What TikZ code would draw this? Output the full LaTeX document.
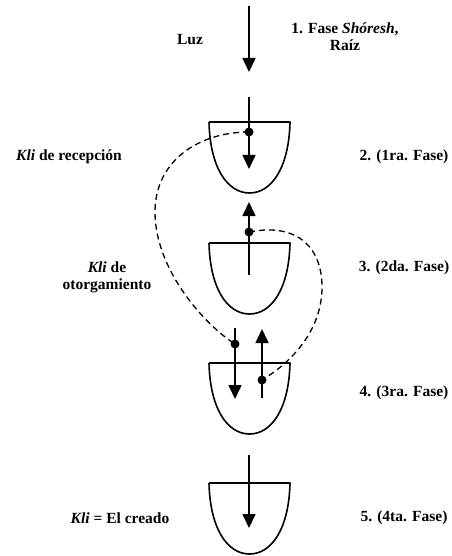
\documentclass[tikz,border=0pt]{standalone}
\usepackage{fontspec}
\setmainfont{Liberation Serif}
\usetikzlibrary{arrows.meta}
\tikzset{
  lbl/.style={font=\fontsize{15.5}{17}\selectfont\bfseries, align=center, inner sep=1pt},
  flecha/.style={line width=1.6pt, -{Triangle[width=13pt,length=14pt]}},
  kli/.style={line width=1.6pt, line join=round},
  enlace/.style={line width=1.3pt, dash pattern=on 6pt off 4pt},
}
\begin{document}
\begin{tikzpicture}[x=1pt,y=-1pt]
		\useasboundingbox (0,0) rectangle (451,556);
		% vasijas
		\foreach \y in {122,243,363,483}{\draw[kli] (209,\y)--(290,\y) .. controls (289,\y+45) and (272,\y+71) .. (249.5,\y+71) .. controls (227,\y+71) and (210,\y+45) .. (209,\y);}
		% puntos y extremos de flechas
		\coordinate (a0) at (249,6);      \coordinate (a1) at (249,72);
		\coordinate (b0) at (249,97);     \coordinate (b1) at (249,169);
		\coordinate (c0) at (249,275);    \coordinate (c1) at (249,202);
		\coordinate (d0) at (235,328);    \coordinate (d1) at (235,399);
		\coordinate (e0) at (262,398);    \coordinate (e1) at (262,329);
		\coordinate (f0) at (249,455);    \coordinate (f1) at (249,528);
		\coordinate (p1) at (249,132);  \coordinate (p2) at (249,232);
		\coordinate (p3) at (235,344);  \coordinate (p4) at (262,380);
		\foreach \ini/\fin in {a0/a1,b0/b1,c0/c1,d0/d1,e0/e1,f0/f1}{\draw[flecha] (\ini)--(\fin);}
		\foreach \p in {p1,p2,p3,p4}{\fill (\p) circle(4.5pt);}
		% enlaces
		\draw[enlace] (p1) .. controls (200,132) and (155,160) .. (155,212) .. controls (155,270) and (205,325) .. (p3);
		\draw[enlace] (p2) .. controls (300,222) and (322,250) .. (322,287) .. controls (322,330) and (292,362) .. (p4);
		% textos
		\node[lbl] (luz) at (190,40) {Luz};
		\node[lbl] (fase1) at (345,37) {1. Fase \textit{Shóresh},\\Raíz};
		\node[lbl] (recep) at (69,157) {\textit{Kli} de recepción};
		\node[lbl] (otorg) at (107,277) {\textit{Kli} de\\otorgamiento};
		\node[lbl] (creado) at (120,518) {\textit{Kli} = El creado};
		\node[lbl] (fase2) at (404,157) {2. (1ra. Fase)};
		\node[lbl] (fase3) at (404,268) {3. (2da. Fase)};
		\node[lbl] (fase4) at (404,393) {4. (3ra. Fase)};
		\node[lbl] (fase5) at (404,518) {5. (4ta. Fase)};
	\end{tikzpicture}
\end{document}
